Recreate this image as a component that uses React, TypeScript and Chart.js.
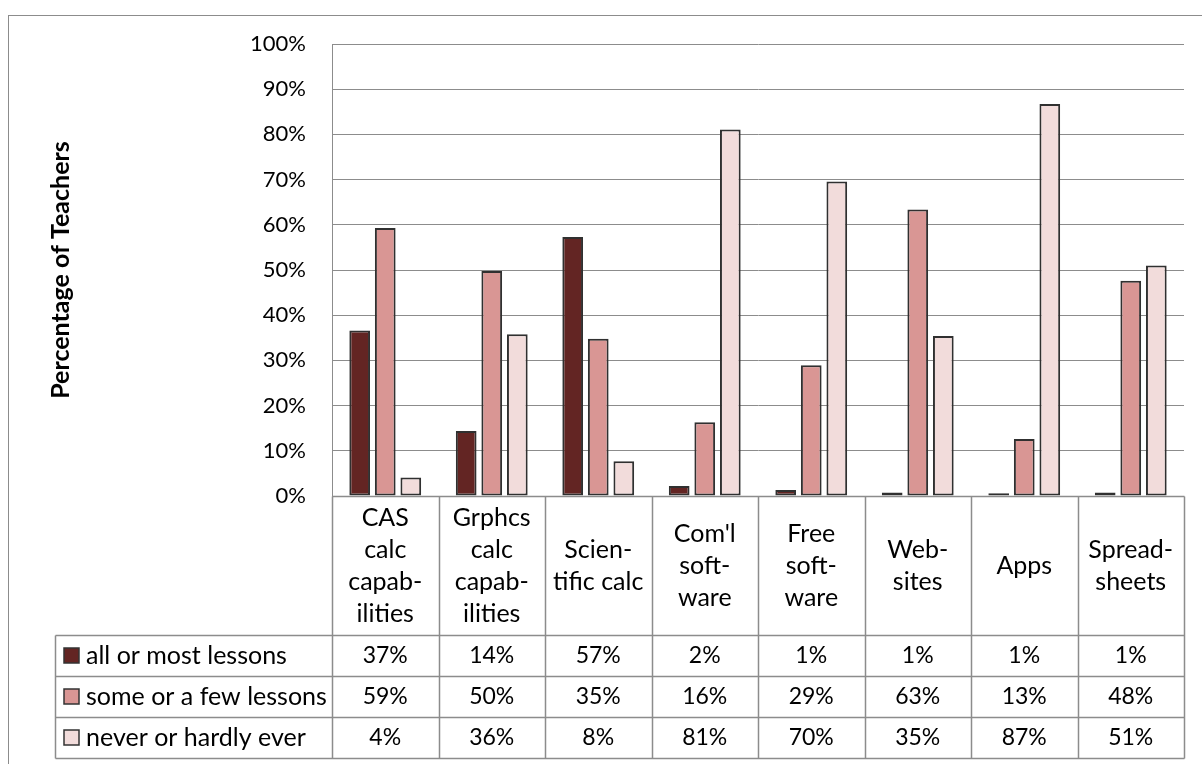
import React, { useEffect, useRef } from "react";
import { Chart, registerables } from "chart.js";

Chart.register(...registerables);

// ---- data ----
const categoryLines: string[][] = [
  ["CAS", "calc", "capab-", "ilities"],
  ["Grphcs", "calc", "capab-", "ilities"],
  ["Scien-", "tific calc"],
  ["Com'l", "soft-", "ware"],
  ["Free", "soft-", "ware"],
  ["Web-", "sites"],
  ["Apps"],
  ["Spread-", "sheets"],
];
const seriesNames = ["all or most lessons", "some or a few lessons", "never or hardly ever"];
const allOrMost = [36.6, 14.4, 57.3, 2.2, 1.3, 0.8, 0.6, 0.8];
const someOrFew = [59.3, 49.8, 34.8, 16.3, 28.9, 63.4, 12.6, 47.6];
const neverOrHardly = [4.1, 35.8, 7.7, 81.1, 69.6, 35.4, 86.7, 51.0];
const yTitle = "Percentage of Teachers";

const seriesColors = ["#632523", "#D99694", "#F2DCDB"];
const FONT = "Lato";
const FS_WORDS = 25;
const FS_NUM = 23;
const FS_TICK = 22;

const tablePlugin = {
  id: "dataTable",
  beforeDraw(chart: any) {
    const ctx = chart.ctx;
    ctx.save();
    ctx.fillStyle = "#ffffff";
    ctx.fillRect(0, 0, chart.width, chart.height);
    ctx.strokeStyle = "#8c8c8c";
    ctx.lineWidth = 1;
    ctx.strokeRect(8.5, 15.5, chart.width + 20, chart.height + 20);
    ctx.restore();
  },
  afterDraw(chart: any) {
    const ctx = chart.ctx;
    const { left, right, bottom } = chart.chartArea;
    const xs = chart.scales.x;
    const n = categoryLines.length;
    const cw = (right - left) / n;
    const headerH = 139;
    const rowH = 41;
    const headerBottom = bottom + headerH;
    const tableBottom = headerBottom + rowH * 3;
    const legendLeft = 55;
    const c = (v: number) => Math.round(v) + 0.5;

    ctx.save();
    ctx.strokeStyle = "#8c8c8c";
    ctx.lineWidth = 1.5;
    ctx.beginPath();
    for (let i = 0; i <= n; i++) {
      const x = c(left + i * cw);
      ctx.moveTo(x, c(bottom));
      ctx.lineTo(x, c(tableBottom));
    }
    ctx.moveTo(c(legendLeft), c(headerBottom));
    ctx.lineTo(c(legendLeft), c(tableBottom));
    for (let r = 0; r <= 3; r++) {
      const y = c(headerBottom + r * rowH);
      ctx.moveTo(c(legendLeft), y);
      ctx.lineTo(c(right), y);
    }
    ctx.moveTo(c(left), c(bottom));
    ctx.lineTo(c(right), c(bottom));
    ctx.stroke();

    ctx.fillStyle = "#000";
    ctx.font = `${FS_WORDS}px ${FONT}`;
    ctx.textAlign = "center";
    ctx.textBaseline = "middle";
    const lh = 32;
    categoryLines.forEach((lines, i) => {
      const cx = xs.getPixelForValue(i);
      const cy = bottom + headerH / 2;
      const start = cy - ((lines.length - 1) * lh) / 2;
      lines.forEach((t, k) => ctx.fillText(t, cx, start + k * lh));
    });

    const series = [allOrMost, someOrFew, neverOrHardly];
    series.forEach((vals, r) => {
      const cy = headerBottom + r * rowH + rowH / 2;
      ctx.textAlign = "center";
      ctx.font = `${FS_NUM}px ${FONT}`;
      vals.forEach((v, i) => {
        ctx.fillText(Math.round(v) + "%", xs.getPixelForValue(i), cy);
      });
      // legend swatch + name
      ctx.fillStyle = seriesColors[r];
      ctx.fillRect(64, Math.round(cy - 7.5), 15, 15);
      ctx.strokeStyle = "#333";
      ctx.lineWidth = 1.5;
      ctx.strokeRect(64, Math.round(cy - 7.5), 15, 15);
      ctx.fillStyle = "#000";
      ctx.textAlign = "left";
      ctx.font = `${FS_WORDS}px ${FONT}`;
      ctx.fillText(seriesNames[r], 86, cy);
    });
    ctx.restore();
  },
};

export default function App() {
  const ref = useRef<HTMLCanvasElement | null>(null);
  useEffect(() => {
    if (!ref.current) return;
    const mk = (label: string, data: number[], color: string) => ({
      label,
      data,
      backgroundColor: color,
      borderColor: "#303030",
      borderWidth: 2,
      borderSkipped: false as const,
      categoryPercentage: 0.72,
      barPercentage: 0.81,
    });
    const chart = new Chart(ref.current, {
      type: "bar",
      data: {
        labels: categoryLines.map((l) => l.join(" ")),
        datasets: [
          mk(seriesNames[0], allOrMost, seriesColors[0]),
          mk(seriesNames[1], someOrFew, seriesColors[1]),
          mk(seriesNames[2], neverOrHardly, seriesColors[2]),
        ],
      },
      options: {
        animation: false,
        responsive: false,
        devicePixelRatio: 1,
        layout: { padding: { left: 0, top: 44, right: 18, bottom: 268 } },
        plugins: {
          legend: { display: false },
          tooltip: { enabled: false },
          title: { display: false },
        },
        scales: {
          x: { display: false },
          y: {
            min: 0,
            max: 100,
            ticks: {
              stepSize: 10,
              callback: (v: any) => v + "%",
              padding: 26,
              color: "#000",
              font: { family: FONT, size: FS_TICK },
            },
            grid: { color: "#8c8c8c", lineWidth: 1, drawTicks: false },
            border: { display: true, color: "#8c8c8c", width: 1 },
            title: {
              display: true,
              text: yTitle,
              color: "#000",
              font: { family: FONT, size: 25, weight: "bold" },
              padding: { top: 46, bottom: 0 },
            },
            afterFit: (s: any) => {
              s.width = 332;
            },
          },
        },
      },
      plugins: [tablePlugin],
    } as any);
    return () => chart.destroy();
  }, []);
  return (
    <div style={{ position: "absolute", left: 0, top: 0, width: 1202, height: 764, background: "#fff" }}>
      <canvas ref={ref} width={1202} height={764} style={{ display: "block" }} />
    </div>
  );
}
